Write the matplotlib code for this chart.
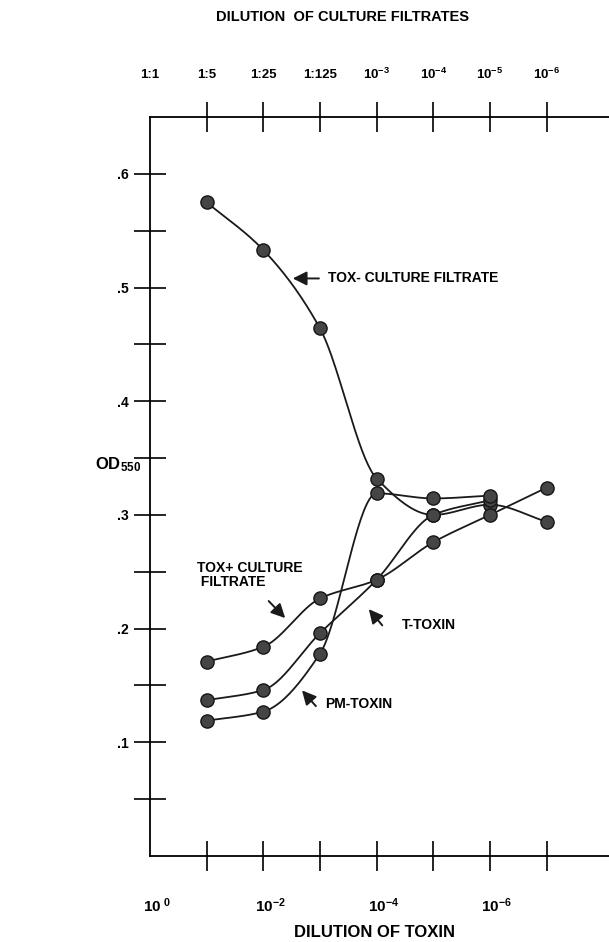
import numpy as np
import matplotlib
matplotlib.use('Agg')
import matplotlib.pyplot as plt
from matplotlib.transforms import blended_transform_factory

plt.rcParams['font.family'] = ['Liberation Sans', 'DejaVu Sans']
plt.rcParams['font.weight'] = 'bold'
plt.rcParams['mathtext.fontset'] = 'custom'
plt.rcParams['mathtext.rm'] = 'Liberation Sans:bold'
plt.rcParams['mathtext.bf'] = 'Liberation Sans:bold'
plt.rcParams['mathtext.it'] = 'Liberation Sans:bold'

# positions: 0 = undiluted, 1..7 = successive dilution steps
x_filtrate = [1, 2, 3, 4, 5, 6, 7]
x_toxin = [1, 2, 3, 4, 5, 6]

tox_minus = [0.575, 0.533, 0.464, 0.332, 0.300, 0.309, 0.294]
tox_plus = [0.171, 0.184, 0.2265, 0.243, 0.276, 0.300, 0.324]
t_toxin = [0.137, 0.146, 0.196, 0.243, 0.300, 0.313]
pm_toxin = [0.119, 0.127, 0.178, 0.319, 0.3145, 0.317]

top_labels = ['1:1', '1:5', '1:25', '1:125', r'$10^{-3}$', r'$10^{-4}$', r'$10^{-5}$', r'$10^{-6}$']
bottom_pos = [0, 2, 4, 6]
bottom_labels = [r'$10^{\ 0}$', r'$10^{-2}$', r'$10^{-4}$', r'$10^{-6}$']
y_major = [0.1, 0.2, 0.3, 0.4, 0.5, 0.6]
y_minor = [0.05, 0.15, 0.25, 0.35, 0.45, 0.55]
y_labels = ['.1', '.2', '.3', '.4', '.5', '.6']


def smooth(x, y, n=40):
    # monotone cubic (pchip style) through the points, hand drawn look
    x = np.asarray(x, float)
    y = np.asarray(y, float)
    h = np.diff(x)
    d = np.diff(y) / h
    m = np.zeros_like(y)
    m[0], m[-1] = d[0], d[-1]
    for k in range(1, len(y)-1):
        if d[k-1]*d[k] > 0:
            w1 = 2*h[k] + h[k-1]
            w2 = h[k] + 2*h[k-1]
            m[k] = (w1 + w2) / (w1/d[k-1] + w2/d[k])
    t = np.linspace(0, 1, n)
    xs, ys = [], []
    for k in range(len(y)-1):
        h00 = 2*t**3 - 3*t**2 + 1
        h10 = t**3 - 2*t**2 + t
        h01 = -2*t**3 + 3*t**2
        h11 = t**3 - t**2
        xs.append(x[k] + t*h[k])
        ys.append(h00*y[k] + h10*h[k]*m[k] + h01*y[k+1] + h11*h[k]*m[k+1])
    return np.concatenate(xs), np.concatenate(ys)


fig = plt.figure(figsize=(6.09, 9.42), dpi=100)
ax = fig.add_axes([150/609, 86/942, 459/609, 739/942])

for xs, ys in ((x_filtrate, tox_minus), (x_filtrate, tox_plus),
               (x_toxin, t_toxin), (x_toxin, pm_toxin)):
    sx, sy = smooth(xs, ys)
    ax.plot(sx, sy, color='#1a1a1a', lw=1.3, zorder=2)
    ax.plot(xs, ys, 'o', ms=9.5, mfc='#454545', mec='#151515', mew=1.0, zorder=3)

ax.set_xlim(0, 8.1)
ax.set_ylim(0, 0.65)

ax.spines['right'].set_visible(False)
for s in ('left', 'top', 'bottom'):
    ax.spines[s].set_linewidth(1.3)

ax.set_xticks(range(1, 8))
ax.tick_params(axis='x', which='both', direction='inout', length=22, width=1.2,
               top=True, bottom=True, labelbottom=False, labeltop=False)
ax.set_yticks(y_major)
ax.set_yticks(y_minor, minor=True)
ax.set_yticklabels(y_labels, fontsize=10, fontweight='bold')
ax.tick_params(axis='y', which='both', direction='inout', length=23, width=1.2, pad=4)

trans = blended_transform_factory(ax.transData, ax.transAxes)
for i, lab in enumerate(top_labels):
    ax.text(i, 1.057, lab, transform=trans, ha='center', va='center',
            fontsize=9.5, fontweight='bold')
for p, lab in zip(bottom_pos, bottom_labels):
    ax.text(p + 0.12, -0.067, lab, transform=trans, ha='center', va='center',
            fontsize=11, fontweight='bold')

ax.text(0.42, 1.135, 'DILUTION  OF CULTURE FILTRATES', transform=ax.transAxes,
        ha='center', va='center', fontsize=10.5, fontweight='bold')
ax.text(0.49, -0.104, 'DILUTION OF TOXIN', transform=ax.transAxes,
        ha='center', va='center', fontsize=12, fontweight='bold')
ytrans = blended_transform_factory(ax.transAxes, ax.transData)
ax.text(-0.12, 0.344, r'OD$_{550}$', transform=ytrans, ha='left', va='center',
        fontsize=12, fontweight='bold')

# curve labels with arrows
arrow = dict(arrowstyle='-|>,head_length=0.6,head_width=0.3', color='#1a1a1a',
             lw=1.4, mutation_scale=14)
ax.annotate('', xy=(2.47, 0.508), xytext=(3.03, 0.508), arrowprops=arrow)
ax.text(3.14, 0.508, 'TOX- CULTURE FILTRATE', ha='left', va='center', fontsize=10,
        fontweight='bold')

ax.annotate('', xy=(2.42, 0.2075), xytext=(2.06, 0.226), arrowprops=arrow)
ax.text(0.83, 0.247, 'TOX+ CULTURE\n FILTRATE', ha='left', va='center', fontsize=10,
        fontweight='bold', linespacing=1.05)

ax.annotate('', xy=(3.83, 0.219), xytext=(4.13, 0.201), arrowprops=arrow)
ax.text(4.44, 0.203, 'T-TOXIN', ha='left', va='center', fontsize=10, fontweight='bold')

ax.annotate('', xy=(2.65, 0.1475), xytext=(2.96, 0.130), arrowprops=arrow)
ax.text(3.09, 0.134, 'PM-TOXIN', ha='left', va='center', fontsize=10, fontweight='bold')

fig.savefig('out.png', dpi=100)
